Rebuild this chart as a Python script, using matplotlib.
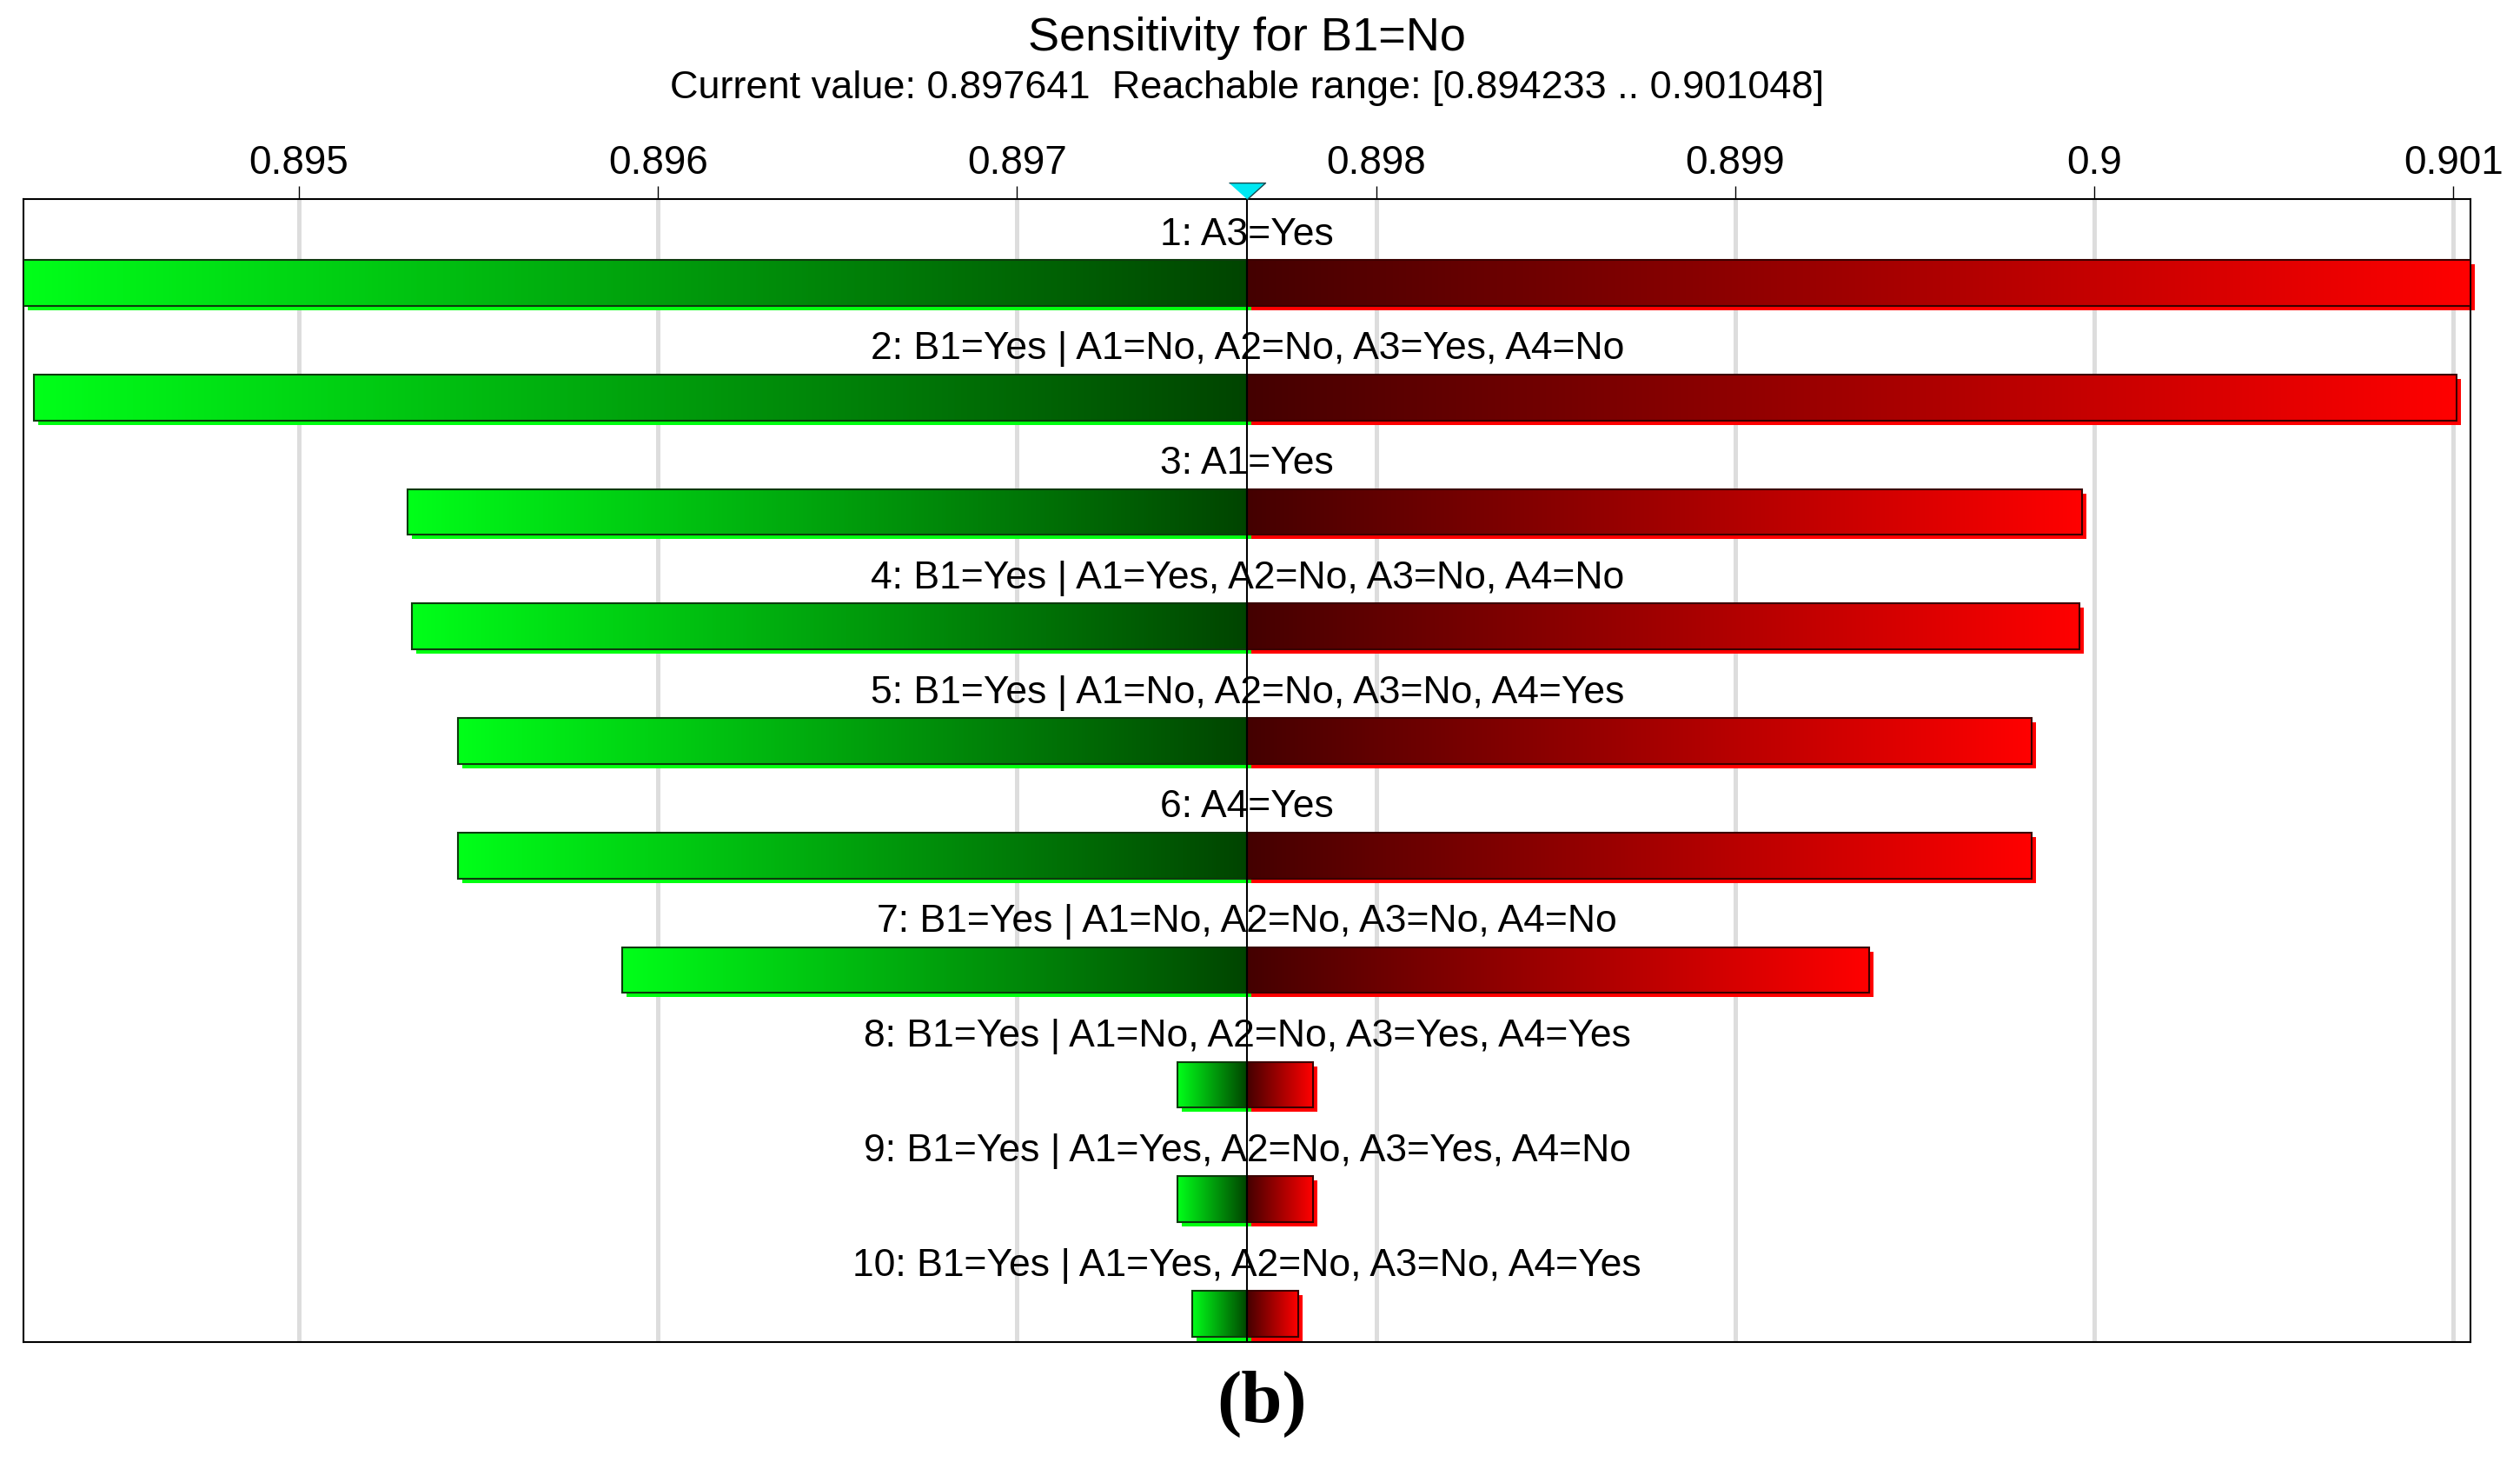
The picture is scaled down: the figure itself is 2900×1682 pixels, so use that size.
import numpy as np
import matplotlib
matplotlib.use("Agg")
import matplotlib.pyplot as plt
from matplotlib.patches import Rectangle
from matplotlib.transforms import ScaledTranslation

plt.rcParams['font.family'] = ['Liberation Sans', 'DejaVu Sans']

# ---------------- data ----------------
title = "Sensitivity for B1=No"
subtitle = "Current value: 0.897641  Reachable range: [0.894233 .. 0.901048]"
current_value = 0.897641
x_range = (0.894233, 0.901048)

labels = [
    "1: A3=Yes",
    "2: B1=Yes | A1=No, A2=No, A3=Yes, A4=No",
    "3: A1=Yes",
    "4: B1=Yes | A1=Yes, A2=No, A3=No, A4=No",
    "5: B1=Yes | A1=No, A2=No, A3=No, A4=Yes",
    "6: A4=Yes",
    "7: B1=Yes | A1=No, A2=No, A3=No, A4=No",
    "8: B1=Yes | A1=No, A2=No, A3=Yes, A4=Yes",
    "9: B1=Yes | A1=Yes, A2=No, A3=Yes, A4=No",
    "10: B1=Yes | A1=Yes, A2=No, A3=No, A4=Yes",
]
low_values = [0.894233, 0.894261, 0.895303, 0.895314, 0.895444,
              0.895444, 0.895900, 0.897448, 0.897448, 0.897488]
high_values = [0.901048, 0.901010, 0.899966, 0.899958, 0.899825,
               0.899825, 0.899374, 0.897824, 0.897824, 0.897783]

tick_values = [0.895, 0.896, 0.897, 0.898, 0.899, 0.900, 0.901]
tick_labels = ["0.895", "0.896", "0.897", "0.898", "0.899", "0.9", "0.901"]

# ---------------- figure ----------------
W, H = 2900, 1682
fig = plt.figure(figsize=(W / 100, H / 100), dpi=100)
ax_l, ax_r, ax_t, ax_b = 27, 2843, 229, 1544
ax = fig.add_axes([ax_l / W, 1 - ax_b / H, (ax_r - ax_l) / W, (ax_b - ax_t) / H])

n = len(labels)
bar_h = 0.40

# gradients
N = 256
t = np.linspace(0, 1, N)
g_bright = np.array([0, 255, 25]) / 255
g_dark = np.array([0, 68, 0]) / 255
r_dark = np.array([68, 0, 0]) / 255
r_bright = np.array([255, 0, 0]) / 255
grad_green = (g_bright[None, :] * (1 - t[:, None]) + g_dark[None, :] * t[:, None])[None, :, :]
grad_red = (r_dark[None, :] * (1 - t[:, None]) + r_bright[None, :] * t[:, None])[None, :, :]

shadow_tr = ax.transData + ScaledTranslation(5 / 100, -5 / 100, fig.dpi_scale_trans)

for i, (lab, lo, hi) in enumerate(zip(labels, low_values, high_values)):
    y0 = i - bar_h / 2
    # shadows
    ax.add_patch(Rectangle((lo, y0), current_value - lo, bar_h, facecolor="#00ff10",
                           edgecolor="none", transform=shadow_tr, zorder=2, clip_on=False))
    ax.add_patch(Rectangle((current_value, y0), hi - current_value, bar_h, facecolor="#ff0000",
                           edgecolor="none", transform=shadow_tr, zorder=2, clip_on=False))
    # gradient fills
    ax.imshow(grad_green, extent=[lo, current_value, i + bar_h / 2, i - bar_h / 2],
              aspect="auto", interpolation="bilinear", zorder=3)
    ax.imshow(grad_red, extent=[current_value, hi, i + bar_h / 2, i - bar_h / 2],
              aspect="auto", interpolation="bilinear", zorder=3)
    # outlines
    ax.add_patch(Rectangle((lo, y0), current_value - lo, bar_h, fill=False,
                           edgecolor="#0d3a0d", linewidth=1.5, zorder=4))
    ax.add_patch(Rectangle((current_value, y0), hi - current_value, bar_h, fill=False,
                           edgecolor="#3a0000", linewidth=1.5, zorder=4))
    # label
    ax.text(current_value, i - 0.42, lab, ha="center", va="center",
            fontsize=32, color="black", zorder=6)

ax.set_xlim(*x_range)
ax.set_ylim(n - 1 + 0.247, -0.732)

# center line and marker
ax.axvline(current_value, color="black", linewidth=1.5, zorder=5)
tri = [(-1, 0.9), (1, 0.9), (0, 0)]
ax.plot([current_value], [1.0], marker=tri, markersize=30.2, color="#00e8f2",
        markeredgecolor="#1a4a50", markeredgewidth=1.0,
        transform=ax.get_xaxis_transform(), clip_on=False, zorder=7, linestyle="none")

# axes styling
ax.set_xticks(tick_values)
ax.set_xticklabels(tick_labels)
ax.set_yticks([])
ax.xaxis.tick_top()
ax.tick_params(axis="x", top=True, bottom=False, labeltop=True, labelbottom=False,
               length=10.8, width=1.0, pad=3, labelsize=33, colors="black")
ax.grid(axis="x", color="#dddddd", linewidth=3.6)
ax.set_axisbelow(True)
for s in ax.spines.values():
    s.set_linewidth(1.5)
    s.set_color("black")

# titles
cx = (ax_l + ax_r) / 2 / W
fig.text(cx, 1 - 44 / H, title, ha="center", va="center", fontsize=39)
fig.text(cx, 1 - 101 / H, subtitle, ha="center", va="center", fontsize=32.5)
fig.text(1452 / W, 1 - 1615 / H, "(b)", ha="center", va="center", fontsize=61,
         fontweight="bold", family=["Liberation Serif", "DejaVu Serif"])

fig.savefig("out.png", dpi=100, facecolor="white")
